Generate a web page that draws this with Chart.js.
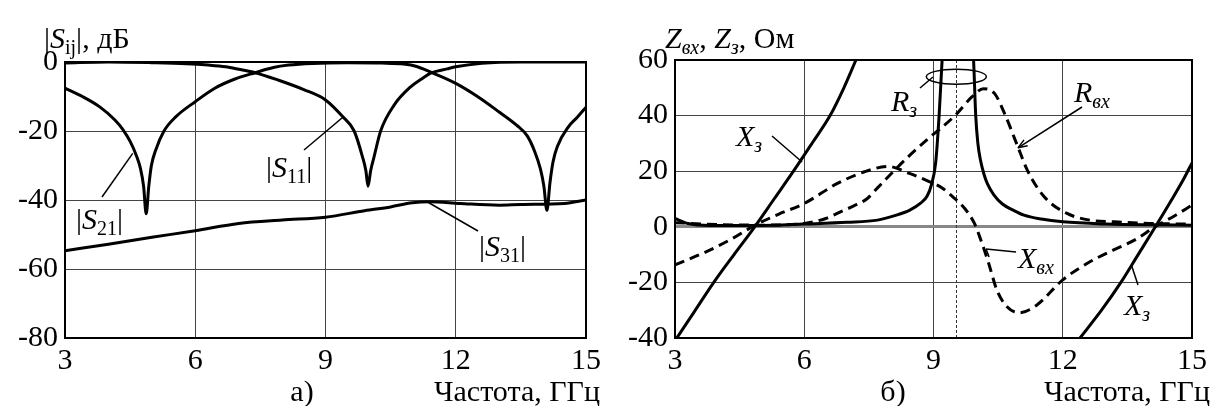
<!DOCTYPE html>
<html>
<head>
<meta charset="utf-8">
<script src="https://cdn.jsdelivr.net/npm/chart.js@4.4.1/dist/chart.umd.min.js"></script>
<style>
  html, body { margin: 0; padding: 0; background: #fff; }
  #wrap { position: relative; width: 1212px; height: 406px; }
  canvas { position: absolute; top: 0; }
  #grafA { left: 0; }
  #grafB { left: 606px; }
</style>
</head>
<body>
<div id="wrap">
  <canvas id="grafA" width="606" height="406"></canvas>
  <canvas id="grafB" width="606" height="406"></canvas>
</div>
<script>
// а) S-параметры, дБ
var s21Freq = [3, 3.4, 3.8, 4.15, 4.33, 4.5, 4.64, 4.74, 4.81, 4.87, 4.93, 4.99, 5.09, 5.28, 5.55, 6.0, 6.45, 6.9, 7.38, 7.8, 8.15, 8.7, 9.5, 10.3, 10.8, 11.1, 11.45, 12.0, 12.5, 13.0, 13.4, 13.65, 13.82, 13.95, 14.03, 14.1, 14.17, 14.24, 14.34, 14.6, 14.8, 15];
var s21Db   = [-7.6, -10, -13, -16.8, -19.5, -23, -27, -31, -36, -44, -36, -30, -25.5, -20, -15.9, -11.5, -7.6, -5.0, -3.1, -1.6, -0.9, -0.4, -0.2, -0.3, -0.6, -1.3, -3.1, -6.2, -10, -14.5, -18.3, -21.5, -26, -31, -36, -43, -35, -29, -24.5, -18.7, -16, -13.1];

var s11Freq = [3, 4, 5, 5.8, 6.3, 6.7, 7.0, 7.38, 7.9, 8.5, 9.0, 9.4, 9.66, 9.85, 9.93, 9.98, 10.04, 10.12, 10.27, 10.58, 10.96, 11.2, 11.45, 11.8, 12.0, 12.6, 13.5, 15];
var s11Db   = [-0.3, 0, -0.2, -0.5, -0.9, -1.4, -2.1, -3.1, -5.2, -8, -11, -15.9, -20, -27.4, -31.5, -36, -31.5, -27.4, -20, -12.5, -7.2, -5, -3.1, -2, -1.4, -0.4, 0, 0];

var s31Freq = [3, 4, 5, 6, 7, 8, 9, 9.9, 10.5, 11.0, 11.4, 12.1, 13.0, 13.5, 14.5, 15];
var s31Db   = [-54.7, -52.8, -50.8, -48.9, -46.8, -45.8, -45.0, -43.1, -42, -40.8, -40.5, -41.0, -41.5, -41.3, -41, -40];

// б) сопротивления, Ом
var xz1Freq = [3.02, 3.45, 3.9, 4.37, 4.85, 5.3, 5.75, 6.2, 6.6, 6.92, 7.2];
var xz1Ohm  = [-40.5, -30.5, -20, -10, 0, 10, 20, 30.5, 40, 50, 60];

var xz2Freq = [12.4, 12.9, 13.35, 13.75, 14.15, 14.5, 14.8, 15];
var xz2Ohm  = [-40, -30, -20, -10, 0, 9, 17, 23];

var rzFreq = [3, 3.3, 3.8, 5, 6, 7, 7.7, 8.1, 8.45, 8.7, 8.85, 8.95, 9.05, 9.13, 9.2, 9.35, 9.55, 9.75, 9.93, 9.98, 10.03, 10.09, 10.17, 10.25, 10.4, 10.6, 10.85, 11.1, 11.5, 12, 13, 14, 15];
var rzOhm  = [3, 1.2, 0.5, 0.5, 1, 1.6, 2.4, 4, 6, 8.5, 11, 15, 23, 40, 60, 100, 120, 100, 60, 40, 30, 24, 19, 15.5, 11.5, 8.2, 6, 4.2, 2.8, 1.8, 1.0, 0.7, 0.6];

var rvxFreq = [3, 4, 5, 6, 6.5, 6.84, 7.15, 7.45, 7.7, 7.95, 8.4, 8.9, 9.5, 9.89, 10.16, 10.42, 10.65, 10.96, 11.18, 11.57, 12.1, 12.63, 13.2, 14, 15];
var rvxOhm  = [1.5, 0.8, 0.6, 1.2, 3, 5.4, 7.5, 10, 14, 18, 25, 32, 40, 46.7, 49.7, 47.9, 40.7, 28.7, 20.3, 10.8, 4.8, 2.4, 1.8, 1.2, 1.0];

var xvxFreq = [3, 3.72, 4.3, 4.86, 5.4, 6.0, 6.77, 7.4, 7.95, 8.44, 8.94, 9.2, 9.43, 9.73, 9.95, 10.1, 10.28, 10.47, 10.7, 11.0, 11.4, 12.0, 12.63, 13.17, 13.7, 14.14, 14.6, 15];
var xvxOhm  = [-13.7, -9, -4.5, 0.6, 4.5, 8.4, 15.6, 19.8, 21.7, 19.2, 16, 14, 11, 6.5, 1.2, -4.8, -13.1, -22.7, -28.7, -30.9, -28.1, -19.1, -12.6, -8.4, -4.5, 0, 4, 7.8];

var freqTicks = [3, 6, 9, 12, 15];
var resonanceFreq = 9.53;

var SERIF = '"Liberation Serif", "Times New Roman", serif';
var FS = 30;

function pontos(fs, vs) {
  return fs.map(function(f, i) { return { x: f, y: vs[i] }; });
}

function serie(fs, vs, dashed) {
  return {
    data: pontos(fs, vs),
    borderColor: '#000',
    borderWidth: 3,
    borderDash: dashed ? [10, 6] : [],
    pointRadius: 0,
    fill: false,
    cubicInterpolationMode: 'monotone'
  };
}

// текст с курсивом и нижними индексами: [строка, стиль], стиль: '' | 'i' | 's' | 'si'
function rich(ctx, x, y, parts, size) {
  ctx.textAlign = 'left';
  ctx.textBaseline = 'alphabetic';
  parts.forEach(function(p) {
    var sub = p[1].indexOf('s') >= 0;
    var it = p[1].indexOf('i') >= 0;
    var fs = sub ? Math.round(size * 0.68) : size;
    ctx.font = (it ? 'italic ' : '') + fs + 'px ' + SERIF;
    ctx.fillText(p[0], x, y + (sub ? size * 0.2 : 0));
    x += ctx.measureText(p[0]).width;
  });
}

function linha(ctx, x1, y1, x2, y2) {
  ctx.beginPath();
  ctx.moveTo(x1, y1);
  ctx.lineTo(x2, y2);
  ctx.stroke();
}

function seta(ctx, x1, y1, x2, y2) {
  linha(ctx, x1, y1, x2, y2);
  var a = Math.atan2(y2 - y1, x2 - x1), L = 10;
  ctx.beginPath();
  ctx.moveTo(x2, y2);
  ctx.lineTo(x2 - L * Math.cos(a - 0.35), y2 - L * Math.sin(a - 0.35));
  ctx.moveTo(x2, y2);
  ctx.lineTo(x2 - L * Math.cos(a + 0.35), y2 - L * Math.sin(a + 0.35));
  ctx.stroke();
}

function moldura(chart) {
  var a = chart.chartArea, ctx = chart.ctx;
  ctx.save();
  ctx.strokeStyle = '#000';
  ctx.lineWidth = 2;
  ctx.strokeRect(a.left, a.top, a.right - a.left, a.bottom - a.top);
  ctx.restore();
}

function opcoes(yMin, yMax, padTop, padRight, yWidth, gridFn) {
  return {
    responsive: false,
    animation: false,
    events: [],
    layout: { padding: { top: padTop, right: padRight, left: 0, bottom: 0 } },
    plugins: { legend: { display: false }, tooltip: { enabled: false } },
    scales: {
      x: {
        type: 'linear', min: 3, max: 15,
        afterBuildTicks: function(s) { s.ticks = freqTicks.map(function(v) { return { value: v }; }); },
        afterFit: function(s) { s.height = 68; },
        border: { display: false },
        grid: { color: '#444', lineWidth: 1, drawTicks: false },
        ticks: { color: '#000', padding: 5, maxRotation: 0, font: { family: SERIF, size: FS } }
      },
      y: {
        min: yMin, max: yMax,
        afterFit: function(s) { s.width = yWidth; },
        border: { display: false },
        grid: gridFn,
        ticks: { color: '#000', padding: 7, stepSize: 20, font: { family: SERIF, size: FS } }
      }
    }
  };
}

// ----- а) -----
new Chart(document.getElementById('grafA').getContext('2d'), {
  type: 'line',
  data: {
    datasets: [
      serie(s21Freq, s21Db, false),
      serie(s11Freq, s11Db, false),
      serie(s31Freq, s31Db, false)
    ]
  },
  options: opcoes(-80, 0, 62, 16, 65, { color: '#444', lineWidth: 1, drawTicks: false }),
  plugins: [{
    id: 'anotA',
    afterDraw: function(chart) {
      var ctx = chart.ctx, sx = chart.scales.x, sy = chart.scales.y;
      moldura(chart);
      ctx.save();
      ctx.fillStyle = '#000';
      ctx.strokeStyle = '#000';
      ctx.lineWidth = 1.5;
      rich(ctx, 44, 48, [['|', ''], ['S', 'i'], ['ij', 's'], ['|, дБ', '']], FS);
      rich(ctx, 266, 177, [['|', ''], ['S', 'i'], ['11', 's'], ['|', '']], FS);
      linha(ctx, 304, 150, sx.getPixelForValue(9.4), sy.getPixelForValue(-16));
      rich(ctx, 76, 229, [['|', ''], ['S', 'i'], ['21', 's'], ['|', '']], FS);
      linha(ctx, 102, 197, sx.getPixelForValue(4.56), sy.getPixelForValue(-26.5));
      rich(ctx, 479, 256, [['|', ''], ['S', 'i'], ['31', 's'], ['|', '']], FS);
      linha(ctx, 478, 231, sx.getPixelForValue(11.34), sy.getPixelForValue(-40.5));
      ctx.font = FS + 'px ' + SERIF;
      ctx.textAlign = 'center';
      ctx.fillText('а)', 302, 401);
      ctx.textAlign = 'right';
      ctx.fillText('Частота, ГГц', 600, 401);
      ctx.restore();
    }
  }]
});

// ----- б) -----
new Chart(document.getElementById('grafB').getContext('2d'), {
  type: 'line',
  data: {
    datasets: [
      serie(xz1Freq, xz1Ohm, false),
      serie(xz2Freq, xz2Ohm, false),
      serie(rzFreq, rzOhm, false),
      serie(rvxFreq, rvxOhm, true),
      serie(xvxFreq, xvxOhm, true)
    ]
  },
  options: opcoes(-40, 60, 60, 12, 69, {
    drawTicks: false,
    color: function(c) { return c.tick && c.tick.value === 0 ? '#888' : '#444'; },
    lineWidth: function(c) { return c.tick && c.tick.value === 0 ? 3 : 1; }
  }),
  plugins: [{
    id: 'anotB',
    beforeDatasetsDraw: function(chart) {
      // линия резонансной частоты
      var ctx = chart.ctx, a = chart.chartArea;
      var x = Math.round(chart.scales.x.getPixelForValue(resonanceFreq)) + 0.5;
      ctx.save();
      ctx.strokeStyle = '#333';
      ctx.lineWidth = 1;
      ctx.setLineDash([3, 2]);
      linha(ctx, x, a.top, x, a.bottom);
      ctx.restore();
    },
    afterDraw: function(chart) {
      var ctx = chart.ctx, sx = chart.scales.x, sy = chart.scales.y;
      moldura(chart);
      ctx.save();
      ctx.fillStyle = '#000';
      ctx.strokeStyle = '#000';
      ctx.lineWidth = 1.5;
      rich(ctx, 59, 48, [['Z', 'i'], ['вх', 'si'], [', ', ''], ['Z', 'i'], ['з', 'si'], [', Ом', '']], FS);
      rich(ctx, 130, 146, [['X', 'i'], ['з', 'si']], FS);
      linha(ctx, 166, 136, sx.getPixelForValue(5.95), sy.getPixelForValue(23.3));
      rich(ctx, 285, 111, [['R', 'i'], ['з', 'si']], FS);
      linha(ctx, 314, 88, 327, 77);
      ctx.beginPath();
      ctx.ellipse(sx.getPixelForValue(resonanceFreq), sy.getPixelForValue(54), 30, 7.5, 0, 0, Math.PI * 2);
      ctx.stroke();
      rich(ctx, 468, 102, [['R', 'i'], ['вх', 'si']], FS);
      seta(ctx, 476, 107, sx.getPixelForValue(10.96), sy.getPixelForValue(28.4));
      rich(ctx, 412, 268, [['X', 'i'], ['вх', 'si']], FS);
      var hx = sx.getPixelForValue(10.22), hy = sy.getPixelForValue(-8);
      linha(ctx, 410, 252, hx, hy);
      linha(ctx, hx, hy, hx + 3, hy + 8);
      rich(ctx, 518, 315, [['X', 'i'], ['з', 'si']], FS);
      linha(ctx, sx.getPixelForValue(13.6), sy.getPixelForValue(-14), 532, 285);
      ctx.font = FS + 'px ' + SERIF;
      ctx.textAlign = 'center';
      ctx.fillText('б)', 287, 401);
      ctx.textAlign = 'right';
      ctx.fillText('Частота, ГГц', 604, 401);
      ctx.restore();
    }
  }]
});
</script>
</body>
</html>
